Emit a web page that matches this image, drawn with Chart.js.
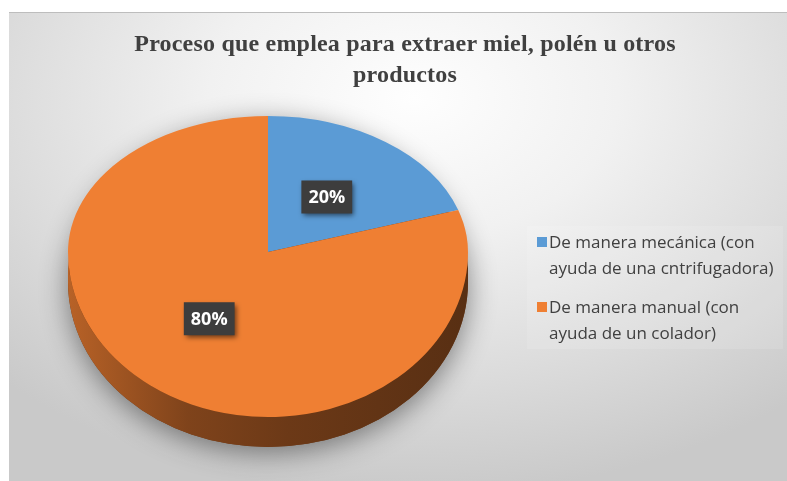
<!DOCTYPE html>
<html>
<head>
<meta charset="utf-8">
<script src="https://cdn.jsdelivr.net/npm/chart.js@4.4.1/dist/chart.umd.min.js"></script>
<style>
  html, body { margin: 0; padding: 0; background: #fff; }
  body { width: 787px; height: 481px; position: relative; overflow: hidden; }
  .frame {
    position: absolute; left: 9px; top: 12px; width: 778px; height: 469px;
    border-top: 1px solid #bdbdbd;
    background: radial-gradient(ellipse 75% 85% at 52% 18%, #fefefe 0%, #f1f1f1 35%, #dcdcdc 70%, #c9c9c9 100%);
  }
  #pie { position: absolute; left: 0; top: 0; }
  .title {
    position: absolute; left: 105px; width: 600px; top: 28px;
    text-align: center; font-family: "Liberation Serif", serif; font-size: 24px; font-weight: bold;
    letter-spacing: 0.2px; line-height: 31px; color: #404040;
  }
  .legend {
    position: absolute; left: 527px; top: 226px; width: 256px; height: 123px;
    background: rgba(255,255,255,0.12);
    font-family: "Open Sans", sans-serif; font-size: 17px; color: #404040;
  }
  .legend ul { list-style: none; margin: 0; padding: 3px 0 0 10px; }
  .legend li { position: relative; padding-left: 12px; line-height: 26px; margin-bottom: 13px; }
  .color-box { position: absolute; left: 0; top: 8px; width: 10px; height: 10px; }
</style>
</head>
<body>
<div class="frame"></div>
<canvas id="pie" width="787" height="481"></canvas>
<div class="title" id="title"></div>
<div class="legend"><ul id="legendList"></ul></div>

<script>
// chart data
const titleLines = ['Proceso que emplea para extraer miel, polén u otros', 'productos'];
const categories = [
  ['De manera mecánica (con', 'ayuda de una cntrifugadora)'],
  ['De manera manual (con', 'ayuda de un colador)']
];
const shares = [20, 80];
const sliceColors = ['#5B9BD5', '#EF7F33'];

document.getElementById('title').innerHTML = titleLines.join('<br>');

// legend by hand, chart.js legend cant do two line labels well
const legendList = document.getElementById('legendList');
categories.forEach((lines, i) => {
  const li = document.createElement('li');
  li.innerHTML = '<span class="color-box" style="background:' + sliceColors[i] + '"></span>' + lines.join('<br>');
  legendList.appendChild(li);
});

// darker shade of a hex colour for the pie edge
function shade(hex, f) {
  const n = parseInt(hex.slice(1), 16);
  const c = [n >> 16, (n >> 8) & 255, n & 255].map(v => Math.round(v * f));
  return 'rgb(' + c.join(',') + ')';
}

// tilts the pie (back half flatter than front, like excel perspective),
// adds the 3d edge and the boxed labels
const pie3d = {
  id: 'pie3d',
  beforeDatasetsDraw(chart, args, opts) {
    const ctx = chart.ctx;
    const arcs = chart.getDatasetMeta(0).data;
    const cx = arcs[0].x, cy = arcs[0].y, r = arcs[0].outerRadius;
    const depth = opts.depth, kb = opts.tiltFront;
    const TAU = Math.PI * 2;

    // soft shadow under the whole disc
    ctx.save();
    ctx.shadowColor = 'rgba(0,0,0,0.45)';
    ctx.shadowBlur = 28;
    ctx.shadowOffsetY = 6;
    ctx.fillStyle = shade(sliceColors[1], 0.45);
    ctx.beginPath();
    ctx.ellipse(cx, cy + depth, r, r * kb, 0, 0, TAU);
    ctx.fill();
    ctx.restore();

    // front edge of each slice
    arcs.forEach((arc, i) => {
      const s = ((arc.startAngle % TAU) + TAU) % TAU;
      const e = s + (arc.endAngle - arc.startAngle);
      const base = arc.options.backgroundColor;
      [0, TAU].forEach(b0 => {
        const a = Math.max(s, b0), b = Math.min(e, b0 + Math.PI);
        if (b <= a) return;
        const grad = ctx.createLinearGradient(cx - r, 0, cx + r, 0);
        grad.addColorStop(0, shade(base, 0.77));
        grad.addColorStop(0.3, shade(base, 0.53));
        grad.addColorStop(0.55, shade(base, 0.45));
        grad.addColorStop(1, shade(base, 0.37));
        ctx.fillStyle = grad;
        ctx.beginPath();
        ctx.ellipse(cx, cy, r, r * kb, 0, a, b, false);
        ctx.ellipse(cx, cy + depth, r, r * kb, 0, b, a, true);
        ctx.closePath();
        ctx.fill();
      });
    });

    // back half of the top face (library draws the arcs now)
    ctx.save();
    ctx.beginPath();
    ctx.rect(0, 0, chart.width, cy);
    ctx.clip();
    ctx.translate(cx, cy);
    ctx.scale(1, opts.tiltBack);
    ctx.translate(-cx, -cy);
  },
  afterDatasetsDraw(chart, args, opts) {
    const ctx = chart.ctx;
    ctx.restore();
    const meta = chart.getDatasetMeta(0);
    const cx = meta.data[0].x, cy = meta.data[0].y;

    // front half of the top face
    ctx.save();
    ctx.beginPath();
    ctx.rect(0, cy, chart.width, chart.height - cy);
    ctx.clip();
    ctx.translate(cx, cy);
    ctx.scale(1, opts.tiltFront);
    ctx.translate(-cx, -cy);
    meta.data.forEach(arc => arc.draw(ctx));
    ctx.restore();

    // value labels
    ctx.save();
    ctx.font = 'bold 18px "Open Sans", sans-serif';
    ctx.textAlign = 'center';
    ctx.textBaseline = 'middle';
    meta.data.forEach((arc, i) => {
      const p = arc.tooltipPosition();
      const k = p.y < cy ? opts.tiltBack : opts.tiltFront;
      const x = p.x, y = cy + (p.y - cy) * k;
      const txt = shares[i] + '%';
      const w = ctx.measureText(txt).width + 14, h = 33;
      ctx.save();
      ctx.shadowColor = 'rgba(0,0,0,0.55)';
      ctx.shadowBlur = 5;
      ctx.shadowOffsetX = 2;
      ctx.shadowOffsetY = 3;
      ctx.fillStyle = '#3d3d3d';
      ctx.fillRect(x - w / 2, y - h / 2, w, h);
      ctx.restore();
      ctx.fillStyle = '#ffffff';
      ctx.fillText(txt, x, y + 1);
    });
    ctx.restore();
  }
};

const ctx = document.getElementById('pie').getContext('2d');
const myChart = new Chart(ctx, {
  type: 'pie',
  data: {
    labels: categories,
    datasets: [{
      data: shares,
      backgroundColor: sliceColors,
      borderWidth: 0,
      hoverOffset: 0
    }]
  },
  options: {
    responsive: false,
    animation: false,
    devicePixelRatio: 1,
    layout: { padding: { left: 68, right: 319, top: 52, bottom: 29 } },
    plugins: {
      legend: { display: false }, // custom legend above
      tooltip: { enabled: false },
      pie3d: { tiltBack: 0.68, tiltFront: 0.825, depth: 30 }
    }
  },
  plugins: [pie3d]
});
</script>
</body>
</html>
